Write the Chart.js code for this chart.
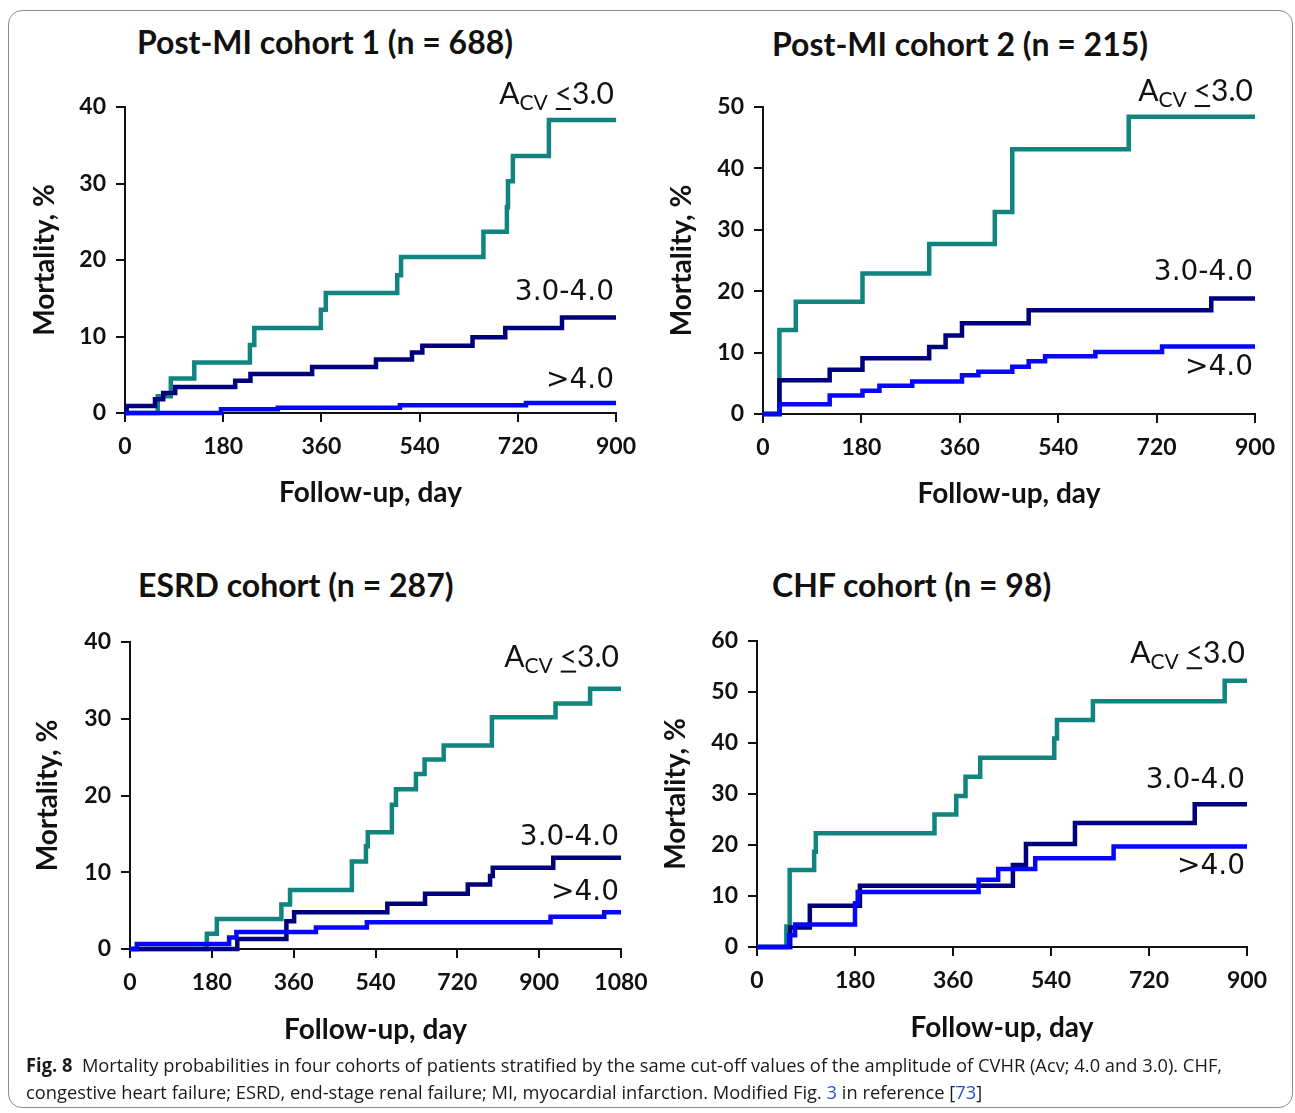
<!DOCTYPE html>
<html>
<head>
<meta charset="utf-8">
<script src="https://cdn.jsdelivr.net/npm/chart.js@4.4.1/dist/chart.umd.min.js"></script>
<style>
  body { margin:0; background:#fff; width:1295px; height:1113px; position:relative; overflow:hidden; }
  .frame { position:absolute; left:8px; top:10px; width:1285px; height:1098px; border:1.5px solid #8c8c8c; border-radius:14px; box-sizing:border-box; }
  .panel { position:absolute; }
  .ttl { position:absolute; font:bold 32px Lato, sans-serif; color:#111; white-space:nowrap; line-height:1; }
  .cap { position:absolute; left:26px; font:19px "Open Sans", sans-serif; color:#1a1a1a; white-space:nowrap; line-height:1; transform-origin:0 0; }
  .cap b { font-weight:bold; }
  .lnk { color:#2a4fd6; }
</style>
</head>
<body>
<div class="frame"></div>

<div class="ttl" style="left:137px; top:26px;">Post-MI cohort 1 (n = 688)</div>
<div class="ttl" style="left:772px; top:28px;">Post-MI cohort 2 (n = 215)</div>
<div class="ttl" style="left:138px; top:569px;">ESRD cohort (n = 287)</div>
<div class="ttl" style="left:772px; top:569px;">CHF cohort (n = 98)</div>

<canvas id="p1" class="panel" width="660" height="470" style="left:10px; top:60px;"></canvas>
<canvas id="p2" class="panel" width="640" height="470" style="left:650px; top:60px;"></canvas>
<canvas id="p3" class="panel" width="660" height="476" style="left:10px; top:590px;"></canvas>
<canvas id="p4" class="panel" width="640" height="474" style="left:650px; top:590px;"></canvas>

<div class="cap" id="cap1" style="top:1056px;"><b>Fig. 8</b>&nbsp; Mortality probabilities in four cohorts of patients stratified by the same cut-off values of the amplitude of CVHR (Acv; 4.0 and 3.0). CHF,</div>
<div class="cap" id="cap2" style="top:1083px;">congestive heart failure; ESRD, end-stage renal failure; MI, myocardial infarction. Modified Fig. <span class="lnk">3</span> in reference [<span class="lnk">73</span>]</div>

<script>
  'use strict';

  // tick labels
  const ticks900 = [0, 180, 360, 540, 720, 900];
  const ticks1080 = [0, 180, 360, 540, 720, 900, 1080];
  const ticks40 = [0, 10, 20, 30, 40];
  const ticks50 = [0, 10, 20, 30, 40, 50];
  const ticks60 = [0, 10, 20, 30, 40, 50, 60];

  // Post-MI cohort 1
  const p1TealDays = [0, 60, 84, 127, 229, 237, 359, 368, 499, 506, 657, 700, 702, 711, 777, 900];
  const p1TealPct  = [0, 2.2, 4.5, 6.6, 8.9, 11.1, 13.5, 15.7, 18.0, 20.4, 23.7, 26.9, 30.3, 33.6, 38.3, 38.3];
  const p1NavyDays = [0, 3, 55, 70, 92, 202, 230, 343, 460, 526, 545, 637, 697, 801, 900];
  const p1NavyPct  = [0, 0.9, 1.8, 2.6, 3.4, 4.2, 5.1, 6.0, 7.0, 7.9, 8.8, 9.9, 11.1, 12.5, 12.5];
  const p1BlueDays = [0, 176, 280, 504, 735, 900];
  const p1BluePct  = [0, 0.5, 0.7, 1.0, 1.3, 1.3];

  // Post-MI cohort 2
  const p2TealDays = [0, 30, 60, 182, 304, 424, 456, 669, 900];
  const p2TealPct  = [0, 13.7, 18.3, 22.9, 27.7, 32.9, 43.1, 48.4, 48.4];
  const p2NavyDays = [0, 30, 122, 182, 304, 334, 364, 486, 820, 900];
  const p2NavyPct  = [0, 5.5, 7.2, 9.1, 10.9, 12.8, 14.8, 16.9, 18.8, 18.8];
  const p2BlueDays = [0, 30, 122, 182, 213, 273, 364, 394, 456, 486, 516, 608, 730, 900];
  const p2BluePct  = [0, 1.6, 3.0, 3.8, 4.6, 5.3, 6.3, 6.9, 7.7, 8.6, 9.4, 10.1, 11.0, 11.0];

  // ESRD cohort
  const p3TealDays = [0, 169, 191, 333, 352, 488, 519, 523, 576, 585, 629, 648, 690, 796, 936, 1012, 1080];
  const p3TealPct  = [0, 2.0, 3.9, 5.8, 7.7, 11.4, 13.4, 15.2, 18.8, 20.8, 22.8, 24.7, 26.5, 30.2, 32.0, 33.9, 33.9];
  const p3NavyDays = [0, 236, 344, 361, 566, 649, 743, 792, 798, 931, 1080];
  const p3NavyPct  = [0, 1.3, 3.6, 4.8, 5.9, 7.2, 8.4, 9.5, 10.6, 11.9, 11.9];
  const p3BlueDays = [0, 15, 218, 234, 409, 521, 925, 1043, 1080];
  const p3BluePct  = [0, 0.65, 1.5, 2.2, 2.8, 3.5, 4.2, 4.8, 4.8];

  // CHF cohort
  const p4TealDays = [0, 54, 60, 105, 108, 326, 366, 383, 410, 546, 551, 617, 859, 900];
  const p4TealPct  = [0, 4.0, 15.1, 18.7, 22.3, 26.0, 29.6, 33.4, 37.1, 40.9, 44.5, 48.2, 52.2, 52.2];
  const p4NavyDays = [0, 61, 97, 189, 470, 494, 584, 804, 900];
  const p4NavyPct  = [0, 3.8, 8.1, 12.0, 16.1, 20.2, 24.3, 28.0, 28.0];
  const p4BlueDays = [0, 59, 70, 180, 185, 407, 443, 511, 655, 900];
  const p4BluePct  = [0, 2.3, 4.4, 8.6, 10.8, 13.2, 15.3, 17.4, 19.7, 19.7];

  const TEAL = '#11847f', NAVY = '#00007d', BLUE = '#0606ff', INK = '#111';

  const toPts = (days, pct) => days.map((d, i) => ({ x: d, y: pct[i] }));

  function series(days, pct, color){
    return {
      data: toPts(days, pct),
      borderColor: color,
      borderWidth: 4.5,
      stepped: 'before',
      pointRadius: 0,
      fill: false,
      clip: false
    };
  }

  // labels at the right end of each curve
  const curveLabels = {
    id: 'curveLabels',
    afterDatasetsDraw(chart, args, opts){
      const { ctx, chartArea, scales } = chart;
      const right = chartArea.right - 2;
      (opts.items || []).forEach(it => {
        const y = scales.y.getPixelForValue(it.at);
        ctx.save();
        ctx.fillStyle = INK;
        ctx.textBaseline = 'alphabetic';
        if (it.acv) {
          const big = '30px Lato', small = '21px Lato';
          ctx.font = big;
          const wA = ctx.measureText('A').width;
          const wLt = ctx.measureText('<').width;
          const w3 = ctx.measureText('3.0').width;
          ctx.font = small;
          const wCV = ctx.measureText('CV').width;
          const gap = 7;
          let x = right - (wA + wCV + gap + wLt + w3);
          const base = y + 10;
          ctx.font = big;
          ctx.fillText('A', x, base); x += wA;
          ctx.font = small;
          ctx.fillText('CV', x, base + 6); x += wCV + gap;
          ctx.font = big;
          ctx.fillText('<', x, base);
          ctx.fillRect(x + 1, base + 4, wLt - 2, 2);
          x += wLt;
          ctx.fillText('3.0', x, base);
        } else {
          ctx.font = '28px "DejaVu Sans"';
          ctx.textAlign = 'right';
          ctx.textBaseline = 'middle';
          ctx.fillText(it.text, right, y);
        }
        ctx.restore();
      });
    }
  };

  const tickFont = { family: 'Lato', weight: 'bold', size: 23 };
  const titleFont = { family: 'Lato', weight: 'bold', size: 28 };

  function makeScales(p){
    return {
      x: {
        type: 'linear', min: 0, max: p.xMax,
        afterBuildTicks: s => { s.ticks = p.xTicks.map(v => ({ value: v })); },
        afterFit: s => { s.height = p.xHeight; },
        grid: { drawOnChartArea: false, drawTicks: true, tickLength: 9, lineWidth: 2, tickWidth: 2, tickColor: INK },
        border: { display: true, color: INK, width: 2 },
        ticks: { color: INK, font: tickFont, padding: 11, maxRotation: 0, autoSkip: false, callback: v => String(v) },
        title: { display: true, text: 'Follow-up, day', color: INK, font: titleFont, padding: { top: 0, bottom: p.xTitlePad } }
      },
      y: {
        type: 'linear', min: 0, max: p.yMax,
        afterBuildTicks: s => { s.ticks = p.yTicks.map(v => ({ value: v })); },
        afterFit: s => { s.width = p.yWidth; },
        grid: { drawOnChartArea: false, drawTicks: true, tickLength: 9, lineWidth: 2, tickWidth: 2, tickColor: INK },
        border: { display: true, color: INK, width: 2 },
        ticks: { color: INK, font: tickFont, padding: 10, callback: v => String(v) },
        title: { display: true, text: 'Mortality, %', color: INK, font: titleFont, padding: { top: p.yTitlePad, bottom: 0 } }
      }
    };
  }

  function makePanel(id, p, sets, labels){
    const el = document.getElementById(id);
    if (!el || typeof Chart === 'undefined') return;
    try {
      new Chart(el, {
        type: 'line',
        data: { datasets: sets },
        options: {
          responsive: false,
          animation: false,
          layout: { padding: { top: p.padTop, right: p.padRight, left: 0, bottom: 0 } },
          plugins: { legend: { display: false }, tooltip: { enabled: false }, curveLabels: { items: labels } },
          scales: makeScales(p)
        },
        plugins: [curveLabels]
      });
    } catch(err) {
      console.error('Chart error:', err);
    }
  }

  makePanel('p1',
    { xMax: 900, xTicks: ticks900, yMax: 40, yTicks: ticks40, yWidth: 115, xHeight: 117, padTop: 47, padRight: 54, xTitlePad: 20, yTitlePad: 18 },
    [series(p1BlueDays, p1BluePct, BLUE), series(p1NavyDays, p1NavyPct, NAVY), series(p1TealDays, p1TealPct, TEAL)],
    [{ acv: true, at: 41.7 }, { text: '3.0-4.0', at: 15.7 }, { text: '>4.0', at: 4.2 }]);

  makePanel('p2',
    { xMax: 900, xTicks: ticks900, yMax: 50, yTicks: ticks50, yWidth: 113, xHeight: 116, padTop: 47, padRight: 35, xTitlePad: 19, yTitlePad: 15 },
    [series(p2BlueDays, p2BluePct, BLUE), series(p2NavyDays, p2NavyPct, NAVY), series(p2TealDays, p2TealPct, TEAL)],
    [{ acv: true, at: 52.6 }, { text: '3.0-4.0', at: 23.0 }, { text: '>4.0', at: 7.5 }]);

  makePanel('p3',
    { xMax: 1080, xTicks: ticks1080, yMax: 40, yTicks: ticks40, yWidth: 120, xHeight: 117, padTop: 52, padRight: 49, xTitlePad: 19, yTitlePad: 21 },
    [series(p3BlueDays, p3BluePct, BLUE), series(p3NavyDays, p3NavyPct, NAVY), series(p3TealDays, p3TealPct, TEAL)],
    [{ acv: true, at: 38.1 }, { text: '3.0-4.0', at: 14.5 }, { text: '>4.0', at: 7.3 }]);

  makePanel('p4',
    { xMax: 900, xTicks: ticks900, yMax: 60, yTicks: ticks60, yWidth: 107, xHeight: 117, padTop: 51, padRight: 43, xTitlePad: 19, yTitlePad: 9 },
    [series(p4BlueDays, p4BluePct, BLUE), series(p4NavyDays, p4NavyPct, NAVY), series(p4TealDays, p4TealPct, TEAL)],
    [{ acv: true, at: 57.6 }, { text: '3.0-4.0', at: 32.7 }, { text: '>4.0', at: 15.7 }]);

  // squeeze the caption to the width of the printed line
  const c1 = document.getElementById('cap1');
  const c2 = document.getElementById('cap2');
  const k = 1196 / c1.scrollWidth;
  c1.style.transform = 'scaleX(' + k + ')';
  c2.style.transform = 'scaleX(' + k + ')';
</script>
</body>
</html>
